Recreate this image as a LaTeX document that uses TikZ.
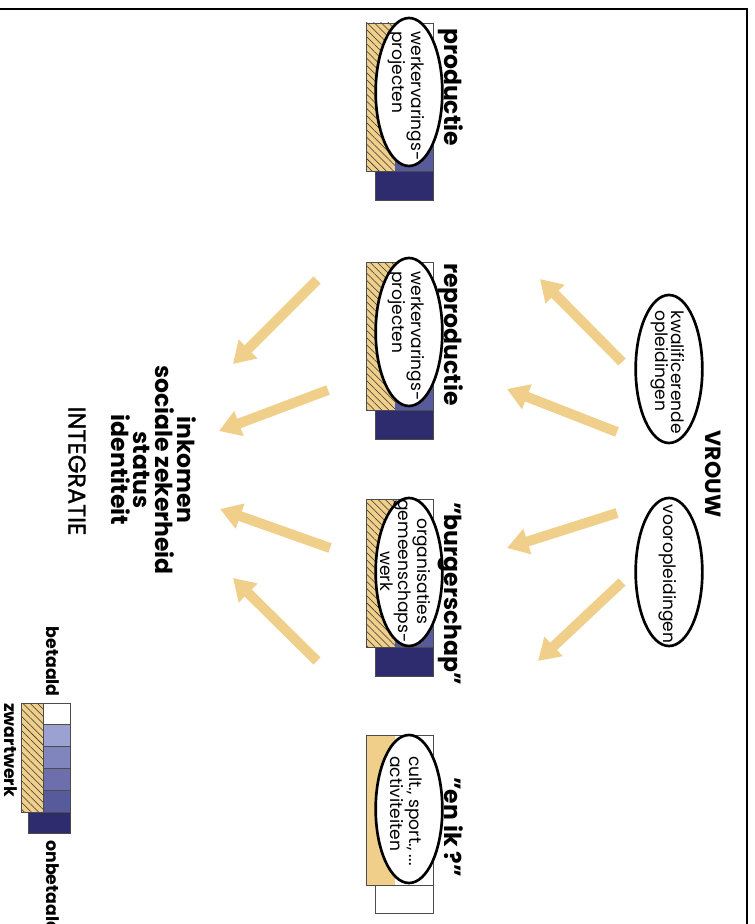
\documentclass[tikz,border=0pt]{standalone}
\usepackage{fontspec}
\setmainfont{Poppins}
\newfontfamily\halfvet{Poppins}[FakeBold=1.2]
\usetikzlibrary{shapes.geometric,arrows.meta,patterns.meta}
\definecolor{zand}{HTML}{EFCF8A}
\definecolor{nacht}{HTML}{2E2B6E}
\definecolor{blauwa}{HTML}{9BA2D2}
\definecolor{blauwb}{HTML}{8085BE}
\definecolor{blauwc}{HTML}{6C6FAB}
\definecolor{blauwd}{HTML}{585B9B}
\tikzset{
  wolk/.style={ellipse, draw, line width=2pt, fill=white, rotate=-90,
    minimum width=111pt, minimum height=50pt, inner sep=0pt},
  wolktekst/.style={rotate=-90, inner sep=0pt, align=left, font=\fontsize{12.8}{12}\selectfont},
  titel/.style={rotate=-90, inner sep=0pt, font=\bfseries\fontsize{17.6}{16.5}\selectfont},
  legende/.style={rotate=-90, inner sep=0pt, font=\bfseries\fontsize{13}{13}\selectfont},
  rand/.style={draw=black!70, line width=0.6pt},
  arcering/.style={preaction={fill=zand}, pattern={Lines[angle=-45,distance=3.8pt,line width=0.4pt]}, pattern color=black!80},
  pijl/.style={draw=zand, line width=7.5pt, -{Triangle[length=16pt,width=19pt]}}
}
\begin{document}
\begin{tikzpicture}[x=0.75pt, y=-0.75pt]
  \useasboundingbox (0,0) rectangle (755,924);
  \draw[line width=1pt] (0,9) -- (747,9) -- (747,924);

  % kolommen
  \foreach \t in {23, 262, 499}
    {
      \fill[arcering] (366,\t) rectangle (395,\t+148);
      \foreach \c [count=\i from 0] in {white, blauwa, blauwb, blauwc, blauwd}
        {
          \fill[\c] (395,\t+\i*29.6) rectangle (433,\t+\i*29.6+29.6);
        }
      \draw[rand] (366,\t) rectangle (433,\t+148);
      \draw[rand, fill=nacht] (375,\t+148) rectangle (433,\t+177);
    }
  \fill[zand] (366,735) rectangle (395,885);
  \draw[rand] (366,735) rectangle (433,885);
  \draw[rand] (375,885) rectangle (433,913);

  \node[wolk] (prodwolk) at (409,92) {};
  \node[wolk] (reprowolk) at (409,332) {};
  \node[wolk] (burgwolk) at (409,572) {};
  \node[wolk] (ikwolk) at (409,809) {};
  \node[wolktekst] (prodtekst) at (406,96) {werkervarings-\\projecten};
  \node[wolktekst] (reprotekst) at (406,336) {werkervarings-\\projecten};
  \node[wolktekst, align=center] (burgtekst) at (405,571) {organisaties\\gemeenschaps-\\werk};
  \node[wolktekst] (iktekst) at (406,811) {cult., sport., ...\\activiteiten};

  \node[titel, anchor=base west] (productie) at (444,28) {productie};
  \node[titel, anchor=base west] (reproductie) at (444,263) {reproductie};
  \node[titel, anchor=base west] (burgerschap) at (444,502) {"burgerschap"};
  \node[titel, anchor=base west] (enik) at (444,777) {"en ik ?"};

  \node[wolk] (kwalif) at (669,369) {};
  \node[wolk] (vooropl) at (669,572) {};
  \node[wolktekst] (kwaliftekst) at (668,372) {kwalificerende\\opleidingen};
  \node[wolktekst] (vooropltekst) at (668,574) {vooropleidingen};
  \node[titel, font=\bfseries\fontsize{16.5}{16}\selectfont] (vrouw) at (713,474) {VROUW};

  \node[titel, align=center] (doel) at (154,470) {inkomen\\sociale zekerheid\\status\\identiteit};
  \node[titel, font=\halfvet\fontsize{18}{17}\selectfont] (integratie) at (77,471) {INTEGRATIE};

  % pijlen
  \foreach \n/\a/\b/\c/\d in {1/622/362/540/279, 2/617/432/507/389, 3/617/513/507/548, 4/622/582/538/661,
                              5/317/280/233/364, 6/328/390/219/431, 7/330/548/220/509, 8/317/661/233/578}
    {
      \coordinate (van\n) at (\a,\b);
      \coordinate (naar\n) at (\c,\d);
      \draw[pijl] (van\n) -- (naar\n);
    }

  % legende
  \fill[arcering] (21,703) rectangle (43,812);
  \foreach \c [count=\i from 0] in {white, blauwa, blauwb, blauwc, blauwd}
    {
      \draw[rand, fill=\c] (43,703+\i*21.8) rectangle (70,703+\i*21.8+21.8);
    }
  \draw[rand] (21,703) rectangle (43,812);
  \draw[rand, fill=nacht] (28,812) rectangle (70,833);
  \node[legende, anchor=base east] (betaald) at (46,697) {betaald};
  \node[legende, anchor=base west] (onbetaald) at (46,840) {onbetaald};
  \node[legende, anchor=base west] (zwartwerk) at (4,703) {zwartwerk};
\end{tikzpicture}
\end{document}
